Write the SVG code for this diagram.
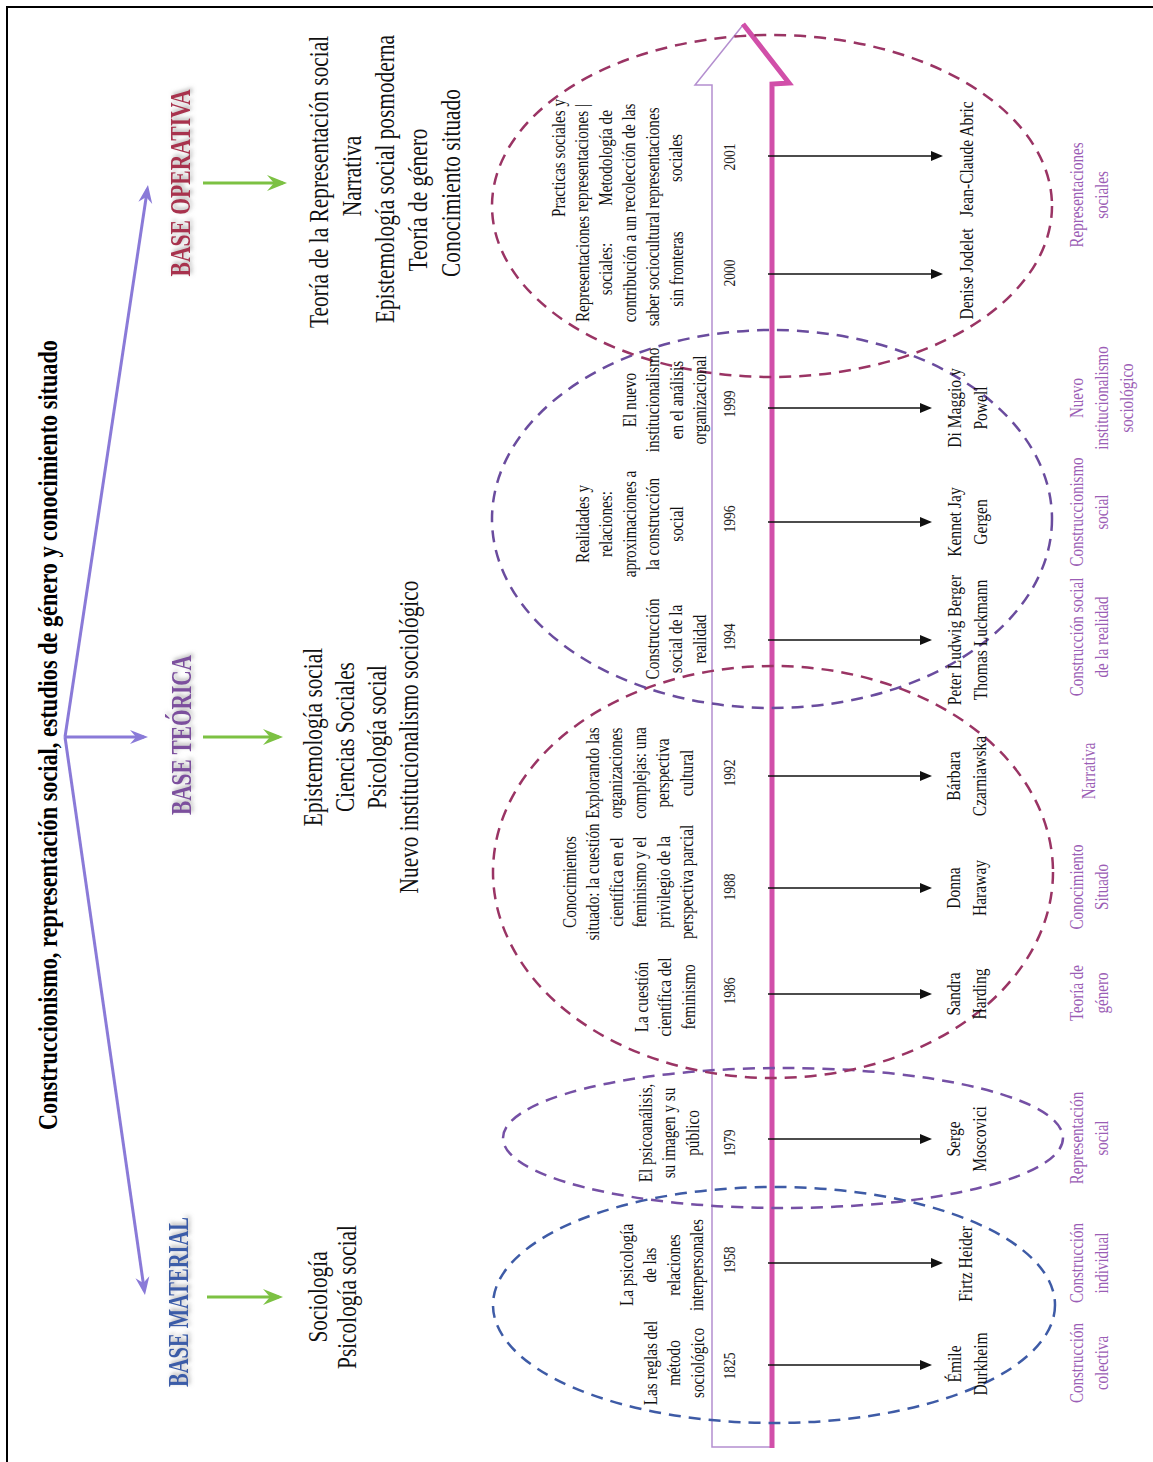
<svg xmlns="http://www.w3.org/2000/svg" width="1153" height="1462" viewBox="0 0 1153 1462">
<style>
text{font-family:"Liberation Serif","Times New Roman",serif;text-anchor:middle}
.title{font-size:27px;font-weight:bold;fill:#000}
.base{font-size:29px;font-weight:bold}
.L{font-size:27px;fill:#111}
.t{font-size:19px;fill:#111}
.y{font-size:17px;fill:#222}
.n{font-size:19px;fill:#111}
.c{font-size:19px;fill:#9b5db5}
.ell{fill:none;stroke-width:2.5;stroke-dasharray:12 8}
.pl{stroke:#8a7ad8;stroke-width:3;fill:none}
.gl{stroke:#7cc143;stroke-width:3;fill:none}
.bl{stroke:#111;stroke-width:1.6;fill:none}
</style>
<defs>
<marker id="hp" viewBox="-22 -10 24 20" refX="-4" refY="0" markerWidth="24" markerHeight="20" markerUnits="userSpaceOnUse" orient="auto"><path d="M0,0 L-18,-7 L-12,0 L-18,7 Z" fill="#8a7ad8"/></marker>
<marker id="hg" viewBox="-24 -10 26 20" refX="-4" refY="0" markerWidth="26" markerHeight="20" markerUnits="userSpaceOnUse" orient="auto"><path d="M0,0 L-20,-8 L-13,0 L-20,8 Z" fill="#7cc143"/></marker>
<marker id="hb" viewBox="-13 -6 14 12" refX="-2" refY="0" markerWidth="14" markerHeight="12" markerUnits="userSpaceOnUse" orient="auto"><path d="M0,0 L-12,-5 L-12,5 Z" fill="#111"/></marker>
<filter id="sh" x="-20%" y="-40%" width="140%" height="180%"><feDropShadow dx="2" dy="2" stdDeviation="2" flood-color="#777" flood-opacity="0.6"/></filter>
</defs>
<rect x="0" y="0" width="1153" height="1462" fill="#fff"/>
<rect x="7" y="7" width="1150" height="1460" fill="none" stroke="#000" stroke-width="2"/>

<g id="timeline">
<path d="M712,1447 L712,85 L695,85 L743,25 L790,83 L772,85 L772,1447 Z" fill="#fff" stroke="#b48fcf" stroke-width="1.5"/>
<path d="M743,24 L789,83 L772,84 L772,1448" fill="none" stroke="#d14fa9" stroke-width="5"/>
</g>

<g id="ellipses">
<ellipse class="ell" cx="774" cy="1305" rx="281" ry="118" stroke="#3e5ba6"/>
<ellipse class="ell" cx="783" cy="1138" rx="280" ry="70" stroke="#7550a5"/>
<ellipse class="ell" cx="773" cy="872" rx="280" ry="206" stroke="#9a3464"/>
<ellipse class="ell" cx="772" cy="519" rx="280" ry="189" stroke="#6a4c9e"/>
<ellipse class="ell" cx="772" cy="206" rx="280" ry="171" stroke="#9a3464"/>
</g>

<g id="connectors">
<line class="pl" x1="65" y1="737" x2="147.4" y2="189" marker-end="url(#hp)"/>
<line class="pl" x1="65" y1="737" x2="144" y2="737" marker-end="url(#hp)"/>
<line class="pl" x1="65" y1="737" x2="144.4" y2="1291" marker-end="url(#hp)"/>
<line class="gl" x1="203" y1="183" x2="283" y2="183" marker-end="url(#hg)"/>
<line class="gl" x1="203" y1="737" x2="279" y2="737" marker-end="url(#hg)"/>
<line class="gl" x1="207" y1="1297" x2="279" y2="1297" marker-end="url(#hg)"/>
<line class="bl" x1="768" y1="1365" x2="930" y2="1365" marker-end="url(#hb)"/>
<line class="bl" x1="768" y1="1263" x2="941" y2="1263" marker-end="url(#hb)"/>
<line class="bl" x1="768" y1="1139" x2="930" y2="1139" marker-end="url(#hb)"/>
<line class="bl" x1="768" y1="994" x2="930" y2="994" marker-end="url(#hb)"/>
<line class="bl" x1="768" y1="888" x2="930" y2="888" marker-end="url(#hb)"/>
<line class="bl" x1="768" y1="776" x2="930" y2="776" marker-end="url(#hb)"/>
<line class="bl" x1="768" y1="640" x2="930" y2="640" marker-end="url(#hb)"/>
<line class="bl" x1="768" y1="522" x2="930" y2="522" marker-end="url(#hb)"/>
<line class="bl" x1="768" y1="408" x2="930" y2="408" marker-end="url(#hb)"/>
<line class="bl" x1="768" y1="274" x2="941" y2="274" marker-end="url(#hb)"/>
<line class="bl" x1="768" y1="156" x2="941" y2="156" marker-end="url(#hb)"/>
</g>

<g id="title">
<text class="title" transform="translate(57,735) rotate(-90)" textLength="790" lengthAdjust="spacingAndGlyphs">Construccionismo, representación social, estudios de género y conocimiento situado</text>
</g>

<g id="base-operativa">
<text class="base" fill="#a8324e" filter="url(#sh)" transform="translate(190,183) rotate(-90)" textLength="187" lengthAdjust="spacingAndGlyphs">BASE OPERATIVA</text>
<text class="L" transform="translate(328,182) rotate(-90) scale(0.79,1)">Teoría de la Representación social</text>
<text class="L" transform="translate(361,176) rotate(-90) scale(0.79,1)">Narrativa</text>
<text class="L" transform="translate(394,179) rotate(-90) scale(0.79,1)">Epistemología social posmoderna</text>
<text class="L" transform="translate(427,200) rotate(-90) scale(0.79,1)">Teoría de género</text>
<text class="L" transform="translate(460,183) rotate(-90) scale(0.79,1)">Conocimiento situado</text>
</g>

<g id="base-teorica">
<text class="base" fill="#7b4f9d" filter="url(#sh)" transform="translate(191,735) rotate(-90)" textLength="160" lengthAdjust="spacingAndGlyphs">BASE TEÓRICA</text>
<text class="L" transform="translate(322,737) rotate(-90) scale(0.79,1)"><tspan x="0">Epistemología social</tspan><tspan x="0" dy="32">Ciencias Sociales</tspan><tspan x="0" dy="32">Psicología social</tspan><tspan x="0" dy="32">Nuevo institucionalismo sociológico</tspan></text>
</g>

<g id="base-material">
<text class="base" fill="#3a5ca8" filter="url(#sh)" transform="translate(188,1302) rotate(-90)" textLength="170" lengthAdjust="spacingAndGlyphs">BASE MATERIAL</text>
<text class="L" transform="translate(327,1297) rotate(-90) scale(0.79,1)"><tspan x="0">Sociología</tspan><tspan x="0" dy="29">Psicología social</tspan></text>
</g>

<g id="e1825">
<text class="t" transform="translate(657,1363) rotate(-90) scale(0.8,1)"><tspan x="0">Las reglas del</tspan><tspan x="0" dy="23.5">método</tspan><tspan x="0" dy="23.5">sociológico</tspan></text>
<text class="y" transform="translate(735,1366) rotate(-90) scale(0.8,1)">1825</text>
<text class="n" transform="translate(961,1364) rotate(-90) scale(0.82,1)"><tspan x="0">Émile</tspan><tspan x="0" dy="26">Durkheim</tspan></text>
<text class="c" transform="translate(1083,1363) rotate(-90) scale(0.79,1)"><tspan x="0">Construcción</tspan><tspan x="0" dy="25">colectiva</tspan></text>
</g>

<g id="e1958">
<text class="t" transform="translate(633,1265) rotate(-90) scale(0.8,1)"><tspan x="0">La psicología</tspan><tspan x="0" dy="23.5">de las</tspan><tspan x="0" dy="23.5">relaciones</tspan><tspan x="0" dy="23.5">interpersonales</tspan></text>
<text class="y" transform="translate(735,1260) rotate(-90) scale(0.8,1)">1958</text>
<text class="n" transform="translate(972,1264) rotate(-90) scale(0.82,1)">Firtz Heider</text>
<text class="c" transform="translate(1083,1263) rotate(-90) scale(0.79,1)"><tspan x="0">Construcción</tspan><tspan x="0" dy="25">individual</tspan></text>
</g>

<g id="e1979">
<text class="t" transform="translate(652,1133) rotate(-90) scale(0.8,1)"><tspan x="0">El psicoanálisis,</tspan><tspan x="0" dy="23.5">su imagen y su</tspan><tspan x="0" dy="23.5">público</tspan></text>
<text class="y" transform="translate(735,1143) rotate(-90) scale(0.8,1)">1979</text>
<text class="n" transform="translate(960,1139) rotate(-90) scale(0.82,1)"><tspan x="0">Serge</tspan><tspan x="0" dy="26">Moscovici</tspan></text>
<text class="c" transform="translate(1083,1138) rotate(-90) scale(0.79,1)"><tspan x="0">Representación</tspan><tspan x="0" dy="25">social</tspan></text>
</g>

<g id="e1986">
<text class="t" transform="translate(648,997) rotate(-90) scale(0.8,1)"><tspan x="0">La cuestión</tspan><tspan x="0" dy="23.5">científica del</tspan><tspan x="0" dy="23.5">feminismo</tspan></text>
<text class="y" transform="translate(735,991) rotate(-90) scale(0.8,1)">1986</text>
<text class="n" transform="translate(960,994) rotate(-90) scale(0.82,1)"><tspan x="0">Sandra</tspan><tspan x="0" dy="26">Harding</tspan></text>
<text class="c" transform="translate(1083,993) rotate(-90) scale(0.79,1)"><tspan x="0">Teoría de</tspan><tspan x="0" dy="25">género</tspan></text>
</g>

<g id="e1988">
<text class="t" transform="translate(576,882) rotate(-90) scale(0.8,1)"><tspan x="0">Conocimientos</tspan><tspan x="0" dy="23.5">situado: la cuestión</tspan><tspan x="0" dy="23.5">científica en el</tspan><tspan x="0" dy="23.5">feminismo y el</tspan><tspan x="0" dy="23.5">privilegio de la</tspan><tspan x="0" dy="23.5">perspectiva parcial</tspan></text>
<text class="y" transform="translate(735,887) rotate(-90) scale(0.8,1)">1988</text>
<text class="n" transform="translate(960,888) rotate(-90) scale(0.82,1)"><tspan x="0">Donna</tspan><tspan x="0" dy="26">Haraway</tspan></text>
<text class="c" transform="translate(1083,887) rotate(-90) scale(0.79,1)"><tspan x="0">Conocimiento</tspan><tspan x="0" dy="25">Situado</tspan></text>
</g>

<g id="e1992">
<text class="t" transform="translate(599,773) rotate(-90) scale(0.8,1)"><tspan x="0">Explorando las</tspan><tspan x="0" dy="23.5">organizaciones</tspan><tspan x="0" dy="23.5">complejas: una</tspan><tspan x="0" dy="23.5">perspectiva</tspan><tspan x="0" dy="23.5">cultural</tspan></text>
<text class="y" transform="translate(735,773) rotate(-90) scale(0.8,1)">1992</text>
<text class="n" transform="translate(960,776) rotate(-90) scale(0.82,1)"><tspan x="0">Bárbara</tspan><tspan x="0" dy="26">Czarniawska</tspan></text>
<text class="c" transform="translate(1095,771) rotate(-90) scale(0.79,1)">Narrativa</text>
</g>

<g id="e1994">
<text class="t" transform="translate(659,639) rotate(-90) scale(0.8,1)"><tspan x="0">Construcción</tspan><tspan x="0" dy="23.5">social de la</tspan><tspan x="0" dy="23.5">realidad</tspan></text>
<text class="y" transform="translate(735,637) rotate(-90) scale(0.8,1)">1994</text>
<text class="n" transform="translate(961,640) rotate(-90) scale(0.82,1)"><tspan x="0">Peter Ludwig Berger</tspan><tspan x="0" dy="26">Thomas Luckmann</tspan></text>
<text class="c" transform="translate(1083,637) rotate(-90) scale(0.79,1)"><tspan x="0">Construcción social</tspan><tspan x="0" dy="25">de la realidad</tspan></text>
</g>

<g id="e1996">
<text class="t" transform="translate(589,524) rotate(-90) scale(0.8,1)"><tspan x="0">Realidades y</tspan><tspan x="0" dy="23.5">relaciones:</tspan><tspan x="0" dy="23.5">aproximaciones a</tspan><tspan x="0" dy="23.5">la construcción</tspan><tspan x="0" dy="23.5">social</tspan></text>
<text class="y" transform="translate(735,519) rotate(-90) scale(0.8,1)">1996</text>
<text class="n" transform="translate(961,522) rotate(-90) scale(0.82,1)"><tspan x="0">Kennet Jay</tspan><tspan x="0" dy="26">Gergen</tspan></text>
<text class="c" transform="translate(1083,512) rotate(-90) scale(0.79,1)"><tspan x="0">Construccionismo</tspan><tspan x="0" dy="25">social</tspan></text>
</g>

<g id="e1999">
<text class="t" transform="translate(636,400) rotate(-90) scale(0.8,1)"><tspan x="0">El nuevo</tspan><tspan x="0" dy="23.5">institucionalismo</tspan><tspan x="0" dy="23.5">en el análisis</tspan><tspan x="0" dy="23.5">organizacional</tspan></text>
<text class="y" transform="translate(735,404) rotate(-90) scale(0.8,1)">1999</text>
<text class="n" transform="translate(961,408) rotate(-90) scale(0.82,1)"><tspan x="0">Di Maggio y</tspan><tspan x="0" dy="26">Powell</tspan></text>
<text class="c" transform="translate(1083,398) rotate(-90) scale(0.79,1)"><tspan x="0">Nuevo</tspan><tspan x="0" dy="25">institucionalismo</tspan><tspan x="0" dy="25">sociológico</tspan></text>
</g>

<g id="e2000">
<text class="t" transform="translate(589,269) rotate(-90) scale(0.8,1)"><tspan x="0">Representaciones</tspan><tspan x="0" dy="23.5">sociales:</tspan><tspan x="0" dy="23.5">contribución a un</tspan><tspan x="0" dy="23.5">saber sociocultural</tspan><tspan x="0" dy="23.5">sin fronteras</tspan></text>
<text class="y" transform="translate(735,273) rotate(-90) scale(0.8,1)">2000</text>
<text class="n" transform="translate(973,274) rotate(-90) scale(0.82,1)">Denise Jodelet</text>
<text class="c" transform="translate(1083,195) rotate(-90) scale(0.79,1)"><tspan x="0">Representaciones</tspan><tspan x="0" dy="25">sociales</tspan></text>
</g>

<g id="e2001">
<text class="t" transform="translate(565,158) rotate(-90) scale(0.8,1)"><tspan x="0">Practicas sociales y</tspan><tspan x="0" dy="23.5">representaciones |</tspan><tspan x="0" dy="23.5">Metodología de</tspan><tspan x="0" dy="23.5">recolección de las</tspan><tspan x="0" dy="23.5">representaciones</tspan><tspan x="0" dy="23.5">sociales</tspan></text>
<text class="y" transform="translate(735,157) rotate(-90) scale(0.8,1)">2001</text>
<text class="n" transform="translate(973,159) rotate(-90) scale(0.82,1)">Jean-Claude Abric</text>
</g>
</svg>
